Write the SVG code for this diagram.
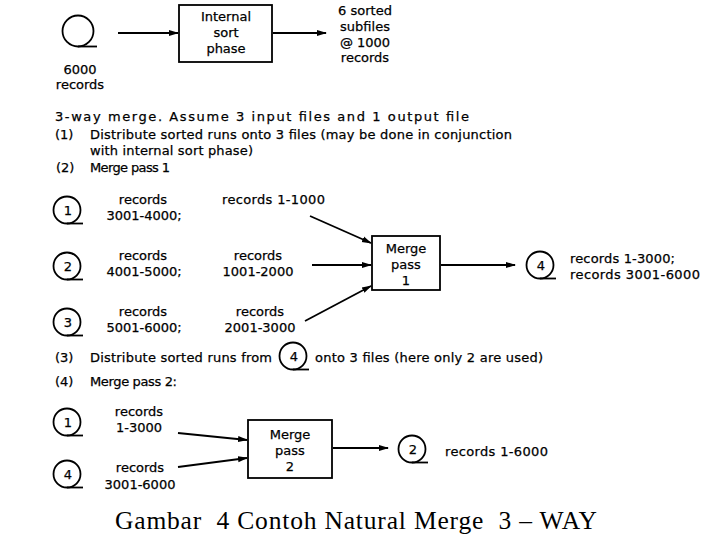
<svg xmlns="http://www.w3.org/2000/svg" width="720" height="540" viewBox="0 0 720 540">
<defs>
<marker id="ah" markerWidth="10" markerHeight="8" refX="9" refY="4" orient="auto" markerUnits="userSpaceOnUse">
<path d="M0,1 L10,4 L0,7 Z" fill="#000"/>
</marker>
<g id="tape">
<circle cx="0" cy="0" r="13.5" fill="none" stroke="#000" stroke-width="1.8"/>
<path d="M0,13.5 L16,13.5" fill="none" stroke="#000" stroke-width="1.8"/>
</g>
<g id="tapeBig">
<circle cx="0" cy="0" r="15.5" fill="none" stroke="#000" stroke-width="1.8"/>
<path d="M0,15.5 L19,15.5" fill="none" stroke="#000" stroke-width="1.8"/>
</g>
</defs>
<style>
text{font-family:"DejaVu Sans","Liberation Sans",Arial,sans-serif;font-size:13px;fill:#000;stroke:#000;stroke-width:0.25}
.c{text-anchor:middle}
.box{fill:#fff;stroke:#000;stroke-width:1.8}
.ln{stroke:#000;stroke-width:1.8;fill:none;marker-end:url(#ah)}
.cap{font-family:"Liberation Serif","Times New Roman",serif;font-size:25.5px;stroke:none;white-space:pre}
</style>
<rect width="720" height="540" fill="#fff"/>

<g id="connectors">
<line class="ln" x1="118" y1="33" x2="178" y2="33"/>
<line class="ln" x1="273" y1="33" x2="326" y2="33"/>
<line class="ln" x1="310" y1="216" x2="371" y2="243"/>
<line class="ln" x1="312" y1="265" x2="371" y2="265"/>
<line class="ln" x1="305" y1="321" x2="371" y2="286"/>
<line class="ln" x1="441" y1="265" x2="515" y2="265"/>
<line class="ln" x1="178" y1="433" x2="247" y2="440"/>
<line class="ln" x1="178" y1="467" x2="247" y2="458"/>
<line class="ln" x1="333" y1="448" x2="388" y2="448"/>
</g>

<g id="input-file">
<use href="#tapeBig" x="78" y="31"/>
<text class="c" x="80" y="74">6000</text>
<text class="c" x="80" y="89">records</text>
</g>

<g id="internal-sort">
<rect class="box" x="179" y="5" width="93" height="57"/>
<text class="c" x="226" y="21">Internal</text>
<text class="c" x="226" y="37">sort</text>
<text class="c" x="226" y="53">phase</text>
</g>

<g id="sorted-subfiles">
<text class="c" x="365" y="15">6 sorted</text>
<text class="c" x="365" y="31">subfiles</text>
<text class="c" x="365" y="47">@ 1000</text>
<text class="c" x="365" y="62">records</text>
</g>

<g id="steps">
<text x="55" y="121" textLength="414" lengthAdjust="spacing">3-way merge. Assume 3 input files and 1 output file</text>
<text x="55" y="139">(1)</text>
<text x="90" y="139" textLength="422" lengthAdjust="spacing">Distribute sorted runs onto 3 files (may be done in conjunction</text>
<text x="90" y="155" textLength="163" lengthAdjust="spacing">with internal sort phase)</text>
<text x="56" y="172">(2)</text>
<text x="90" y="172" textLength="80" lengthAdjust="spacing">Merge pass 1</text>
<text x="55" y="362">(3)</text>
<text x="90" y="362" textLength="182" lengthAdjust="spacing">Distribute sorted runs from</text>
<text x="315" y="362" textLength="228" lengthAdjust="spacing">onto 3 files (here only 2 are used)</text>
<text x="55" y="386">(4)</text>
<text x="90" y="386" textLength="87" lengthAdjust="spacing">Merge pass 2:</text>
</g>

<g id="file1-pass1">
<use href="#tape" x="67" y="210"/>
<text class="c" x="68" y="215">1</text>
<text class="c" x="143" y="204">records</text>
<text class="c" x="144" y="220">3001-4000;</text>
<text x="222" y="204" textLength="103" lengthAdjust="spacing">records 1-1000</text>
</g>

<g id="file2-pass1">
<use href="#tape" x="67" y="266"/>
<text class="c" x="68" y="271">2</text>
<text class="c" x="143" y="260">records</text>
<text class="c" x="144" y="276">4001-5000;</text>
<text class="c" x="258" y="260">records</text>
<text class="c" x="258" y="276">1001-2000</text>
</g>

<g id="file3-pass1">
<use href="#tape" x="67" y="322"/>
<text class="c" x="68" y="327">3</text>
<text class="c" x="143" y="316">records</text>
<text class="c" x="144" y="332">5001-6000;</text>
<text class="c" x="260" y="316">records</text>
<text class="c" x="260" y="332">2001-3000</text>
</g>

<g id="merge-pass-1">
<rect class="box" x="372" y="236" width="68" height="54"/>
<text class="c" x="406" y="253">Merge</text>
<text class="c" x="406" y="269">pass</text>
<text class="c" x="406" y="285">1</text>
</g>

<g id="file4-pass1">
<use href="#tape" x="540" y="265"/>
<text class="c" x="541" y="270">4</text>
<text x="570" y="263" textLength="105" lengthAdjust="spacing">records 1-3000;</text>
<text x="570" y="279" textLength="130" lengthAdjust="spacing">records 3001-6000</text>
</g>

<g id="file4-step3">
<use href="#tape" x="293" y="356"/>
<text class="c" x="294" y="361">4</text>
</g>

<g id="file1-pass2">
<use href="#tape" x="67" y="422"/>
<text class="c" x="68" y="427">1</text>
<text class="c" x="139" y="416">records</text>
<text class="c" x="139" y="432">1-3000</text>
</g>

<g id="file4-pass2">
<use href="#tape" x="67" y="474"/>
<text class="c" x="68" y="479">4</text>
<text class="c" x="140" y="472">records</text>
<text class="c" x="140" y="489">3001-6000</text>
</g>

<g id="merge-pass-2">
<rect class="box" x="248" y="420" width="84" height="58"/>
<text class="c" x="290" y="439">Merge</text>
<text class="c" x="290" y="455">pass</text>
<text class="c" x="290" y="471">2</text>
</g>

<g id="file2-pass2">
<use href="#tape" x="412" y="449"/>
<text class="c" x="413" y="454">2</text>
<text x="445" y="456" textLength="103" lengthAdjust="spacing">records 1-6000</text>
</g>

<text class="cap" x="115" y="529" textLength="482" lengthAdjust="spacing" xml:space="preserve">Gambar  4 Contoh Natural Merge  3 – WAY</text>
</svg>
